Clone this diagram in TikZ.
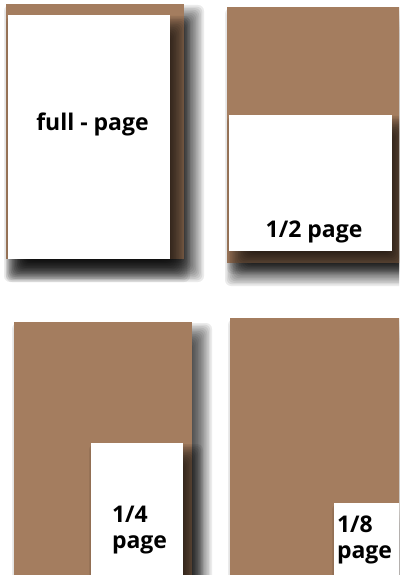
\documentclass[tikz,border=0pt]{standalone}
\usepackage{fontspec}
\setmainfont{Open Sans}
\definecolor{pagebrown}{RGB}{164,125,95}
% soft drop shadow: #1 x, #2 y, #3 width, #4 height (top-left origin, y down)
\newcommand\softshadow[4]{%
  \foreach \k in {0,...,14}{%
    \pgfmathsetmacro\grow{11*(1-\k/7)}%
    \fill[black, opacity=0.08, rounded corners=6pt]
      (#1+9-\grow, #2+12-\grow) rectangle (#1+#3+9+\grow, #2+#4+12+\grow);
  }}
\begin{document}
\begin{tikzpicture}[x=1pt,y=-1pt,
  sheet/.style={fill=pagebrown, draw=none, inner sep=0pt, outer sep=0pt, anchor=north west},
  adbox/.style={fill=white, draw=none, inner sep=0pt, outer sep=0pt, anchor=north west},
  caption/.style={font=\bfseries\fontsize{23}{26}\selectfont, inner sep=0pt, outer sep=0pt}]
\useasboundingbox (0,0) rectangle (399,575);
\clip (0,0) rectangle (399,575);
\fill[white] (0,0) rectangle (399,575);
% full page
\softshadow{6}{4}{178}{255}
\node[sheet, minimum width=178pt, minimum height=255pt] (s1) at (6,4) {};
\softshadow{8}{15}{162}{244}
\node[adbox, minimum width=162pt, minimum height=244pt] (w1) at (8,15) {};
\node[caption, anchor=base] (t1) at (92.5,131) {full - page};
% half page
\softshadow{227}{7}{175}{256}
\node[sheet, minimum width=175pt, minimum height=256pt] (s2) at (227,7) {};
\softshadow{229}{115}{163}{136}
\node[adbox, minimum width=163pt, minimum height=136pt] (w2) at (229,115) {};
\node[caption, anchor=base] (t2) at (314,237) {1/2 page};
% quarter page
\softshadow{14}{322}{178}{256}
\node[sheet, minimum width=178pt, minimum height=256pt] (s3) at (14,322) {};
\softshadow{91}{443}{92}{135}
\node[adbox, minimum width=92pt, minimum height=135pt] (w3) at (91,443) {};
\node[caption, anchor=base west, align=left] (t3) at (112,548) {1/4\\page};
% eighth page
\softshadow{230}{318}{172}{260}
\node[sheet, minimum width=172pt, minimum height=260pt] (s4) at (230,318) {};
\softshadow{334}{503}{68}{75}
\node[adbox, minimum width=68pt, minimum height=75pt] (w4) at (334,503) {};
\node[caption, anchor=base west, align=left] (t4) at (337,558) {1/8\\page};
\end{tikzpicture}
\end{document}
